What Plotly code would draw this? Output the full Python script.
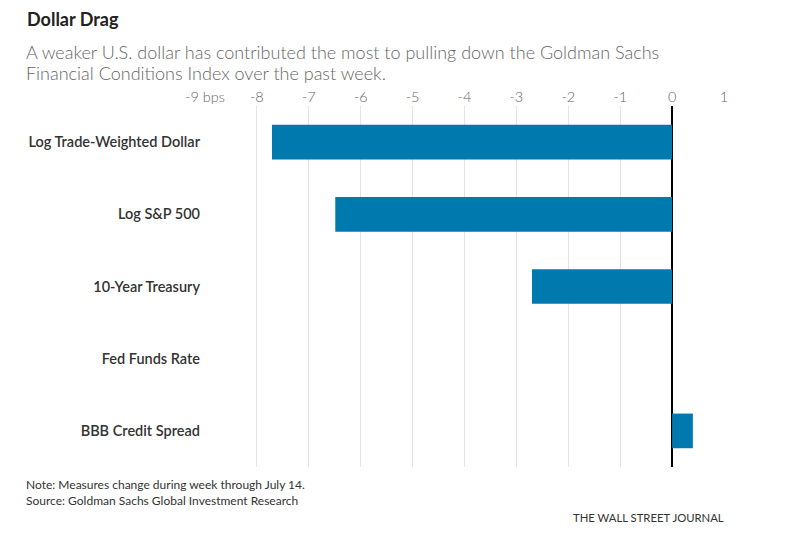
import plotly.graph_objects as go

categories = ["Log Trade-Weighted Dollar", "Log S&P 500", "10-Year Treasury",
              "Fed Funds Rate", "BBB Credit Spread"]
values = [-7.71, -6.49, -2.70, 0.0, 0.40]
tick_vals = [-9, -8, -7, -6, -5, -4, -3, -2, -1, 0, 1]
tick_text = ["-9 bps", "-8", "-7", "-6", "-5", "-4", "-3", "-2", "-1", "0", "1"]

FONT = "Lato"
OFF = 8  # page body margin
W, H = 792 - OFF, 546 - OFF
L, T, R, B = 205 - OFF, 106 - OFF, 68, 546 - 467
PW, PH = W - L - R, H - T - B

fig = go.Figure()
fig.add_trace(go.Bar(
    y=categories, x=values, orientation="h",
    marker=dict(color="#0079AE", line=dict(width=0)),
    width=0.48, hoverinfo="x+y",
))

fig.update_layout(
    width=W, height=H,
    margin=dict(l=L, r=R, t=T, b=B),
    paper_bgcolor="white", plot_bgcolor="white",
    showlegend=False,
    font=dict(family=FONT, color="#333"),
    xaxis=dict(
        side="top", range=[-9, 1], tickvals=tick_vals, ticktext=tick_text,
        showgrid=True, gridcolor="#e3e3e3", gridwidth=1,
        zeroline=True, zerolinecolor="#000", zerolinewidth=1.5,
        showline=False, ticks="",
        tickfont=dict(family=FONT, size=14.5, color="#666", weight=300),
        fixedrange=True,
    ),
    yaxis=dict(
        autorange="reversed", showgrid=False, zeroline=False, showline=False,
        ticks="", ticklabelstandoff=4,
        tickfont=dict(family=FONT, size=14.5, color="#333", weight=600),
        fixedrange=True,
    ),
    bargap=0.5,
)


def px_to_paper(x, y):
    return (x - OFF - L) / PW, 1 - (y - OFF - T) / PH


annotations = [
    dict(text="<b>Dollar Drag</b>", x=25, y=18.5, font=dict(size=18, color="#222")),
    dict(text="A weaker U.S. dollar has contributed the most to pulling down the Goldman Sachs",
         x=24, y=52, font=dict(size=18, color="#666", weight=300)),
    dict(text="Financial Conditions Index over the past week.",
         x=24, y=73, font=dict(size=18, color="#666", weight=300)),
    dict(text="Note: Measures change during week through July 14.",
         x=24, y=484, font=dict(size=12, color="#333")),
    dict(text="Source: Goldman Sachs Global Investment Research",
         x=24, y=500, font=dict(size=12, color="#333")),
]
for a in annotations:
    px, py = px_to_paper(a["x"], a["y"])
    fig.add_annotation(
        text=a["text"], xref="paper", yref="paper", x=px, y=py,
        xanchor="left", yanchor="middle", showarrow=False,
        font=dict(family=FONT, **a["font"]), align="left",
    )
px, py = px_to_paper(726, 517)
fig.add_annotation(
    text="THE WALL STREET JOURNAL", xref="paper", yref="paper", x=px, y=py,
    xanchor="right", yanchor="middle", showarrow=False,
    font=dict(family=FONT, size=11.3, color="#333"),
)

fig.write_html("out.html")
